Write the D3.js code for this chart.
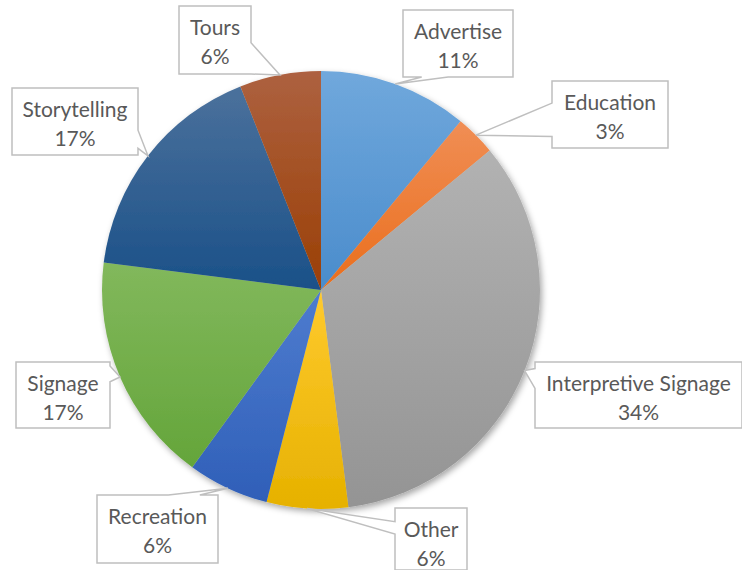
<!DOCTYPE html>
<html lang="en">
<head>
  <meta charset="UTF-8" />
  <title>Pie chart</title>
  <style>
    body { margin: 0; background: #fff; }
    text { font-family: Lato, "Open Sans", sans-serif; fill: #595959; }
  </style>
  <script src="https://d3js.org/d3.v7.min.js"></script>
</head>
<body>
  <script>
    // data
    const categories = ["Advertise", "Education", "Interpretive Signage", "Other",
                        "Recreation", "Signage", "Storytelling", "Tours"];
    const shares = [11, 3, 34, 6, 6, 17, 17, 6];

    // slice gradients: top colour, bottom colour
    const topColors = ["#70a8dc", "#f08e55", "#b2b2b2", "#ffca2e", "#4e7ccf", "#82b85c", "#4b719c", "#ad6140"];
    const bottomColors = ["#4a8ccc", "#ea6e1c", "#949494", "#e6b100", "#2f5fb8", "#64a53a", "#1a5088", "#9a3f05"];

    // callout boxes: x, y, w, h, side of the pointer, base from/to (fraction of side)
    const boxes = [
      { x: 403, y: 10,  w: 110, h: 67, side: "bottom", a: 0.17, b: 0.41 },
      { x: 552, y: 81,  w: 116, h: 67, side: "left",   a: 0.33, b: 0.83 },
      { x: 535, y: 362, w: 207, h: 66, side: "left",   a: 0.10, b: 0.40 },
      { x: 395, y: 508, w: 72,  h: 62, side: "left",   a: 0.22, b: 0.42 },
      { x: 97,  y: 495, w: 121, h: 68, side: "top",    a: 0.59, b: 0.85 },
      { x: 16,  y: 362, w: 94,  h: 66, side: "right",  a: 0.06, b: 0.30 },
      { x: 12,  y: 88,  w: 126, h: 67, side: "right",  a: 0.63, b: 0.90 },
      { x: 179, y: 6,   w: 72,  h: 68, side: "right",  a: 0.54, b: 1.00 }
    ];

    const width = 742, height = 570;
    const cx = 321, cy = 290, radius = 219;

    const svg = d3.select("body").append("svg")
      .attr("width", width)
      .attr("height", height);

    const defs = svg.append("defs");

    const shadow = defs.append("filter")
      .attr("id", "shadow")
      .attr("x", "-10%").attr("y", "-10%")
      .attr("width", "130%").attr("height", "130%");
    shadow.append("feDropShadow")
      .attr("dx", 2).attr("dy", 3)
      .attr("stdDeviation", 3)
      .attr("flood-color", "#000")
      .attr("flood-opacity", 0.35);

    categories.forEach(function (c, i) {
      const g = defs.append("linearGradient")
        .attr("id", "grad" + i)
        .attr("x1", 0).attr("y1", 0).attr("x2", 0).attr("y2", 1);
      g.append("stop").attr("offset", "0%").attr("stop-color", topColors[i]);
      g.append("stop").attr("offset", "100%").attr("stop-color", bottomColors[i]);
    });

    const data = categories.map((c, i) => ({ name: c, value: shares[i], i: i }));

    const pie = d3.pie().value(d => d.value).sort(null);
    const arcs = pie(data);
    const arc = d3.arc().innerRadius(0).outerRadius(radius);

    const pieG = svg.append("g")
      .attr("transform", "translate(" + cx + "," + cy + ")")
      .attr("filter", "url(#shadow)");

    pieG.selectAll("path")
      .data(arcs)
      .enter()
      .append("path")
      .attr("d", arc)
      .attr("fill", d => "url(#grad" + d.data.i + ")");

    // callouts
    function calloutPath(bx, tip) {
      const x0 = bx.x, y0 = bx.y, x1 = bx.x + bx.w, y1 = bx.y + bx.h;
      const pts = [];
      if (bx.side === "top") {
        pts.push([x0, y0], [x0 + bx.w * bx.a, y0], tip, [x0 + bx.w * bx.b, y0], [x1, y0], [x1, y1], [x0, y1]);
      } else if (bx.side === "right") {
        pts.push([x0, y0], [x1, y0], [x1, y0 + bx.h * bx.a], tip, [x1, y0 + bx.h * bx.b], [x1, y1], [x0, y1]);
      } else if (bx.side === "bottom") {
        pts.push([x0, y0], [x1, y0], [x1, y1], [x0 + bx.w * bx.b, y1], tip, [x0 + bx.w * bx.a, y1], [x0, y1]);
      } else {
        pts.push([x0, y0], [x1, y0], [x1, y1], [x0, y1], [x0, y0 + bx.h * bx.b], tip, [x0, y0 + bx.h * bx.a]);
      }
      return "M" + pts.map(p => p[0] + "," + p[1]).join("L") + "Z";
    }

    const labels = svg.append("g");

    arcs.forEach(function (d) {
      const bx = boxes[d.data.i];
      const mid = (d.startAngle + d.endAngle) / 2;
      const tip = [cx + radius * Math.sin(mid), cy - radius * Math.cos(mid)];

      labels.append("path")
        .attr("d", calloutPath(bx, tip))
        .attr("fill", "#fff")
        .attr("stroke", "#bfbfbf")
        .attr("stroke-width", 1.5);

      const t = labels.append("text")
        .attr("text-anchor", "middle")
        .attr("font-size", 21);
      t.append("tspan")
        .attr("x", bx.x + bx.w / 2)
        .attr("y", bx.y + 29)
        .text(d.data.name);
      t.append("tspan")
        .attr("x", bx.x + bx.w / 2)
        .attr("y", bx.y + 58)
        .text(d.data.value + "%");
    });
  </script>
</body>
</html>
